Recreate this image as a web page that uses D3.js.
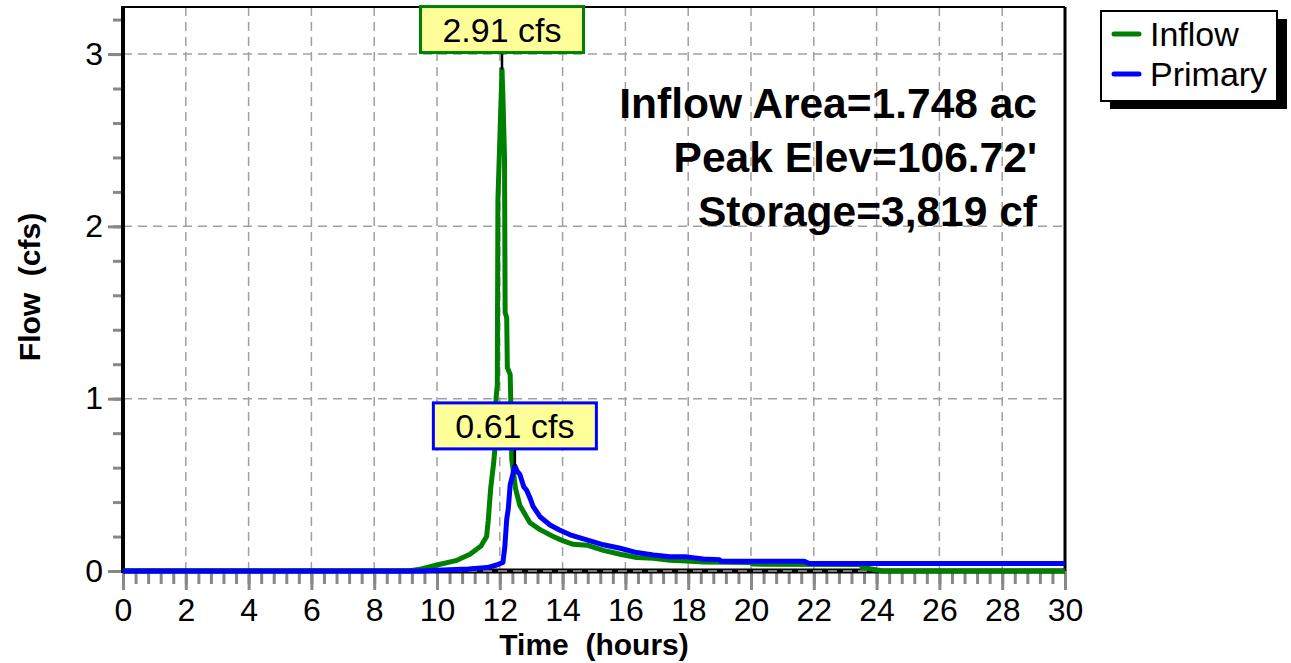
<!DOCTYPE html>
<html><head><meta charset="utf-8">
<script src="https://cdn.jsdelivr.net/npm/d3@7"></script>
<style>
html,body{margin:0;padding:0;background:#fff;}
svg{display:block;font-family:"Liberation Sans",Arial,sans-serif;}
</style></head>
<body>
<svg id="chart" width="1291" height="663"></svg>
<script>
// ---- data ----
const inflowT = [0, 9.1, 9.5, 10.0, 10.6, 11.05, 11.4, 11.58, 11.63, 11.71, 11.8, 11.85, 11.88, 11.92, 11.94, 12.07, 12.1, 12.15, 12.17, 12.22, 12.24, 12.33, 12.36, 12.38, 12.5, 12.64, 12.96, 13.28, 13.7, 14.02, 14.34, 14.77, 15.3, 15.83, 16.36, 16.89, 17.42, 17.95, 18.5, 20.0, 20.05, 23.5, 23.55, 24.2, 30];
const inflowQ = [0, 0, 0.012, 0.035, 0.06, 0.097, 0.145, 0.2, 0.29, 0.48, 0.62, 0.72, 1.0, 1.08, 2.15, 2.91, 2.75, 2.4, 1.5, 1.47, 1.18, 1.14, 0.9, 0.65, 0.48, 0.38, 0.28, 0.24, 0.2, 0.175, 0.155, 0.15, 0.12, 0.097, 0.078, 0.074, 0.062, 0.058, 0.052, 0.05, 0.04, 0.038, 0.02, 0, 0];
const primaryT = [0, 9.5, 10.0, 11.0, 11.6, 11.9, 12.1, 12.16, 12.22, 12.27, 12.33, 12.4, 12.48, 12.55, 12.64, 12.76, 12.85, 12.97, 13.06, 13.28, 13.6, 13.9, 14.24, 14.77, 15.3, 15.83, 16.36, 16.89, 17.42, 17.95, 18.48, 19.0, 19.05, 21.7, 21.85, 30];
const primaryQ = [0, 0, 0.005, 0.012, 0.02, 0.035, 0.05, 0.14, 0.3, 0.36, 0.5, 0.55, 0.61, 0.58, 0.56, 0.49, 0.47, 0.42, 0.375, 0.315, 0.267, 0.238, 0.21, 0.18, 0.152, 0.132, 0.107, 0.093, 0.083, 0.082, 0.07, 0.066, 0.056, 0.056, 0.043, 0.043];
const xTicks = [0, 2, 4, 6, 8, 10, 12, 14, 16, 18, 20, 22, 24, 26, 28, 30];
const yTicks = [0, 1, 2, 3];
const seriesNames = ["Inflow", "Primary"];
const seriesColors = ["#008000", "#0000ff"];
const peakLabels = ["2.91 cfs", "0.61 cfs"];
const peakT = [12.07, 12.48];
const peakQ = [2.91, 0.61];
const infoLines = ["Inflow Area=1.748 ac", "Peak Elev=106.72'", "Storage=3,819 cf"];

// ---- layout ----
const L = 123, R = 1065, T = 7, B = 571;
const x = d3.scaleLinear().domain([0, 30]).range([L, R]);
const y = d3.scaleLinear().domain([0, 3.273]).range([B, T]);
const svg = d3.select("#chart");
const gridCol = "#a0a0a0", tickCol = "#888";
const FF = "Liberation Sans, Arial, sans-serif";

// grid
svg.append("g").selectAll("line").data(xTicks.slice(1, -1)).join("line")
  .attr("x1", d => x(d)).attr("x2", d => x(d)).attr("y1", T).attr("y2", B)
  .attr("stroke", gridCol).attr("stroke-width", 1.5).attr("stroke-dasharray", "9,6");
svg.append("g").selectAll("line").data(yTicks.slice(1)).join("line")
  .attr("x1", L).attr("x2", R).attr("y1", d => y(d)).attr("y2", d => y(d))
  .attr("stroke", gridCol).attr("stroke-width", 1.5).attr("stroke-dasharray", "9,6");

// minor / major ticks via axes
const xMinor = d3.range(0, 30.0001, 0.4);
const yMinor = d3.range(0, 3.2001, 0.2);
const gxm = svg.append("g").attr("transform", `translate(0,${B})`)
  .call(d3.axisBottom(x).tickValues(xMinor).tickSize(13).tickFormat(""));
const gx = svg.append("g").attr("transform", `translate(0,${B})`)
  .call(d3.axisBottom(x).tickValues(xTicks).tickSize(19).tickPadding(8).tickFormat(d3.format("d")));
const gym = svg.append("g").attr("transform", `translate(${L},0)`)
  .call(d3.axisLeft(y).tickValues(yMinor).tickSize(10).tickFormat(""));
const gy = svg.append("g").attr("transform", `translate(${L},0)`)
  .call(d3.axisLeft(y).tickValues(yTicks).tickSize(15).tickPadding(5).tickFormat(d3.format("d")));
[gxm, gx, gym, gy].forEach(g => {
  g.select(".domain").remove();
  g.selectAll(".tick line").attr("stroke", tickCol).attr("stroke-width", 3);
});
gx.selectAll(".tick text").attr("font-size", 32).attr("fill", "#000").attr("font-family", FF);
gy.selectAll(".tick text").attr("font-size", 32).attr("fill", "#000").attr("font-family", FF);

// frame
svg.append("line").attr("x1", L).attr("x2", R).attr("y1", T).attr("y2", T).attr("stroke", "#000").attr("stroke-width", 2);
svg.append("line").attr("x1", R).attr("x2", R).attr("y1", T).attr("y2", B).attr("stroke", "#000").attr("stroke-width", 3);
svg.append("line").attr("x1", L).attr("x2", R).attr("y1", B).attr("y2", B).attr("stroke", "#000").attr("stroke-width", 5);
svg.append("line").attr("x1", L).attr("x2", L).attr("y1", T - 1).attr("y2", B + 2).attr("stroke", "#000").attr("stroke-width", 4);
svg.append("line").attr("x1", L).attr("x2", R).attr("y1", B).attr("y2", B)
  .attr("stroke", gridCol).attr("stroke-width", 1.5).attr("stroke-dasharray", "9,6");

// series
const line = d3.line().x(d => x(d[0])).y(d => y(d[1]));
const series = [d3.zip(inflowT, inflowQ), d3.zip(primaryT, primaryQ)];
series.forEach((s, i) => {
  svg.append("path").datum(s).attr("d", line).attr("fill", "none")
    .attr("stroke", seriesColors[i]).attr("stroke-width", 5).attr("stroke-linejoin", "round");
});

// peak labels
peakLabels.forEach((lab, i) => {
  const cx = x(peakT[i]), py = y(peakQ[i]);
  const bw = 163, bh = 46, bb = py - 17;
  svg.append("line").attr("x1", cx).attr("x2", cx).attr("y1", bb).attr("y2", py)
    .attr("stroke", "#000").attr("stroke-width", 2.5);
  svg.append("rect").attr("x", cx - bw / 2).attr("y", bb - bh).attr("width", bw).attr("height", bh)
    .attr("fill", "#ffff99").attr("stroke", seriesColors[i]).attr("stroke-width", 3);
  svg.append("text").attr("x", cx).attr("y", bb - 11).attr("text-anchor", "middle")
    .attr("font-size", 34).attr("fill", "#000").text(lab);
});

// info text
infoLines.forEach((t, i) => {
  svg.append("text").attr("x", 1037).attr("y", 118 + i * 54).attr("text-anchor", "end")
    .attr("font-size", 42.5).attr("font-weight", "bold").attr("fill", "#000").text(t);
});

// axis titles
svg.append("text").attr("x", 594).attr("y", 655).attr("text-anchor", "middle")
  .attr("font-size", 30).attr("font-weight", "bold").style("white-space", "pre").text("Time  (hours)");
svg.append("text").attr("transform", "translate(40,287) rotate(-90)").attr("text-anchor", "middle")
  .attr("font-size", 30).attr("font-weight", "bold").style("white-space", "pre").text("Flow  (cfs)");

// legend
const lg = svg.append("g");
lg.append("rect").attr("x", 1110).attr("y", 19).attr("width", 177).attr("height", 90).attr("fill", "#000");
lg.append("rect").attr("x", 1101).attr("y", 11).attr("width", 176).attr("height", 90)
  .attr("fill", "#fff").attr("stroke", "#000").attr("stroke-width", 2);
seriesNames.forEach((n, i) => {
  const yy = 34 + i * 40;
  lg.append("line").attr("x1", 1114).attr("x2", 1139).attr("y1", yy).attr("y2", yy)
    .attr("stroke", seriesColors[i]).attr("stroke-width", 5).attr("stroke-linecap", "round");
  lg.append("text").attr("x", 1150).attr("y", yy + 12).attr("font-size", 34).attr("fill", "#000").text(n);
});
</script>
</body></html>
